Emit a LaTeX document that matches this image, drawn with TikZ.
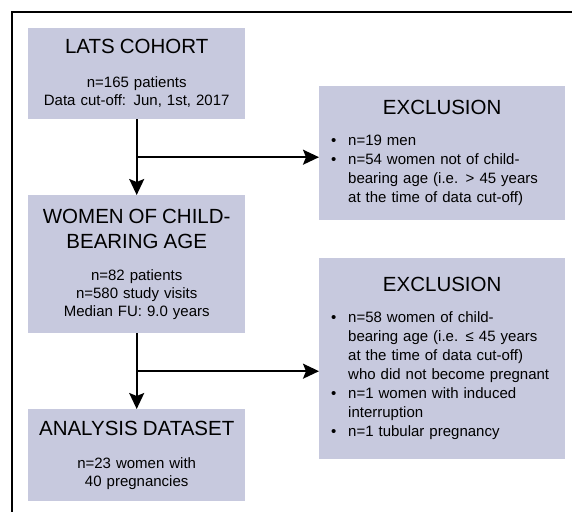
\documentclass[tikz,border=0pt]{standalone}
\usepackage{fontspec}
\setmainfont{Liberation Sans}
\usetikzlibrary{arrows.meta,calc}
\definecolor{boxfill}{RGB}{199,201,222}
\newcommand{\ttl}{\fontsize{20.5}{25}\selectfont}
\newcommand{\bul}{\makebox[17pt][l]{\textbullet}}
\newcommand{\ind}{\hspace*{17pt}}
\tikzset{box/.style={fill=boxfill, anchor=north west, inner sep=0pt, align=center, font=\fontsize{15}{18}\selectfont},
  lbox/.style={box, text width=217pt},
  rbox/.style={box, align=left, text width=222pt, inner xsep=12pt, font=\fontsize{15}{19}\selectfont},
  arr/.style={black, line width=1.8pt, -{Stealth[length=16pt,width=15pt,inset=3pt]}}}

\begin{document}
\begin{tikzpicture}[x=1pt,y=-1pt]
  \useasboundingbox (0,0) rectangle (572,511);
  \draw[line width=2.2pt] (11.7,530) -- (11.7,11.7) -- (590,11.7);
  \node[lbox, minimum height=91pt] (lats) at (28,28)
    {{\ttl LATS COHORT}\\[16pt]n=165 patients\\Data cut-off: Jun, 1st, 2017};
  \node[lbox, minimum height=138pt] (women) at (28,195)
    {{\ttl WOMEN OF CHILD-\\[7pt]BEARING AGE}\\[14pt]n=82 patients\\n=580 study visits\\Median FU: 9.0 years};
  \node[lbox, minimum height=92pt] (analysis) at (28,409)
    {{\ttl ANALYSIS DATASET}\\[15pt]n=23 women with\\40 pregnancies};
  \node[rbox, minimum height=134pt] (excl1) at (319,86)
    {\makebox[222pt]{\ttl EXCLUSION}\\[12pt]
     \bul n=19 men\\
     \bul n=54 women not of child-\\
     \ind bearing age (i.e. > 45 years\\
     \ind at the time of data cut-off)};
  \node[rbox, minimum height=201pt] (excl2) at (319,258)
    {\makebox[222pt]{\ttl EXCLUSION}\\[12pt]
     \bul n=58 women of child-\\
     \ind bearing age (i.e. ≤ 45 years\\
     \ind at the time of data cut-off)\\
     \ind who did not become pregnant\\
     \bul n=1 women with induced\\
     \ind interruption\\
     \bul n=1 tubular pregnancy};
  \coordinate (br1) at ($(lats.south)!0.5!(women.north)$);
  \coordinate (br2) at ($(women.south)!0.5!(analysis.north)$);
  \draw[arr] (lats) -- (women);
  \draw[arr] (women) -- (analysis);
  \draw[arr] (br1) -- (br1 -| excl1.west);
  \draw[arr] (br2) -- (br2 -| excl2.west);
\end{tikzpicture}
\end{document}
